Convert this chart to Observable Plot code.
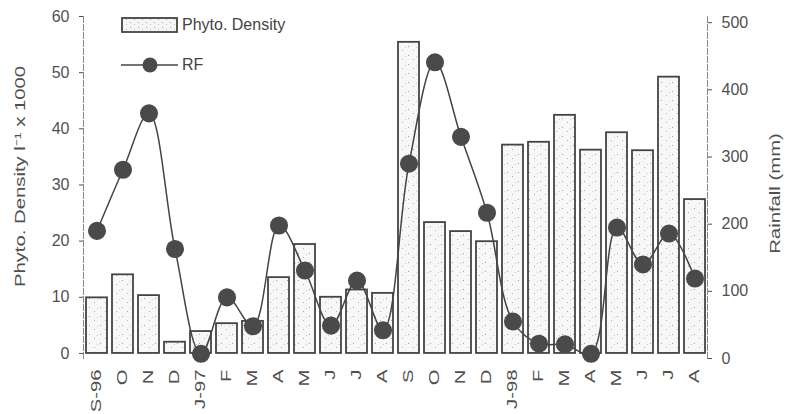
<!DOCTYPE html>
<html>
<head>
<meta charset="utf-8">
<script src="https://cdn.jsdelivr.net/npm/d3@7"></script>
<script src="https://cdn.jsdelivr.net/npm/@observablehq/plot@0.6"></script>
<style>
  body { margin: 0; background: #fff; }
  #wrap { position: relative; width: 788px; height: 414px; font-family: "Liberation Sans", Arial, sans-serif; }
  #legend { position: absolute; left: 121px; top: 11px; color: #444; font-size: 16px; }
  #legend .row { display: flex; align-items: center; height: 28px; margin-bottom: 12px; }
  #legend svg { margin-right: 4px; }
</style>
</head>
<body>
<div id="wrap">
  <div id="chart"></div>
  <div id="legend">
    <div class="row">
      <svg width="57" height="18"><rect x="1" y="2" width="55" height="14" fill="url(#stippleL)" stroke="#444" stroke-width="1.8"/>
        <defs><pattern id="stippleL" width="8" height="5" patternUnits="userSpaceOnUse"><rect width="8" height="5" fill="#f6f6f6"/><rect x="1" y="1" width="1" height="1" fill="#a8a8a8"/><rect x="5" y="3" width="1" height="1" fill="#b8b8b8"/></pattern></defs></svg>
      <span>Phyto. Density</span>
    </div>
    <div class="row">
      <svg width="57" height="18"><line x1="0" y1="9" x2="57" y2="9" stroke="#444" stroke-width="1.5"/><circle cx="29" cy="9" r="7.5" fill="#4a4a4a"/></svg>
      <span>RF</span>
    </div>
  </div>
</div>
<script>
const months = ["S-96","O","N","D","J-97","F","M","A","M","J","J","A","S","O","N","D","J-98","F","M","A","M","J","J","A"];
const phytoDensity = [9.9, 14, 10.3, 2, 3.9, 5.3, 5.7, 13.5, 19.4, 10, 11.3, 10.7, 55.4, 23.3, 21.7, 19.9, 37.1, 37.6, 42.4, 36.2, 39.3, 36.1, 49.2, 27.4];
const rainfall = [190, 281, 365, 163, 7, 91, 48, 198, 131, 49, 116, 42, 290, 441, 330, 217, 55, 22, 21, 7, 195, 140, 186, 119];
const densityTicks = [0, 10, 20, 30, 40, 50, 60];
const rainfallTicks = [0, 100, 200, 300, 400, 500];
const leftLabel = "Phyto. Density l⁻¹ x 1000";
const rightLabel = "Rainfall (mm)";

// rainfall (right axis) expressed in left-axis units
const rfToY = r => -0.9 + r * 0.1196;
const yToRf = v => Math.round((v + 0.9) / 0.1196);

const idx = months.map((_, i) => i);
const barData = idx.map(i => ({i, v: phytoDensity[i]}));
const rfData = idx.map(i => ({i, v: rfToY(rainfall[i])}));

const gray = "#505050";
const chart = Plot.plot({
  width: 788,
  height: 414,
  marginLeft: 83,
  marginRight: 81,
  marginTop: 16,
  marginBottom: 56,
  style: {fontFamily: "Liberation Sans, Arial, sans-serif", color: gray, background: "#fff"},
  x: {type: "band", domain: idx, paddingInner: 0.2, paddingOuter: 0.1, axis: null},
  y: {domain: [-0.9, 60], axis: null},
  marks: [
    Plot.frame({anchor: "left", stroke: "#888", strokeDasharray: "6,2"}),
    Plot.frame({anchor: "right", stroke: "#888", strokeDasharray: "6,2"}),
    Plot.barY(barData, {x: "i", y1: 0, y2: "v", fill: "url(#stipple)", stroke: "#444", strokeWidth: 1.8}),
    Plot.line(rfData, {x: "i", y: "v", curve: "catmull-rom", stroke: "#444", strokeWidth: 1.5}),
    Plot.dot(rfData, {x: "i", y: "v", r: 8.3, fill: "#4a4a4a", stroke: "#4a4a4a"}),
    Plot.axisY({anchor: "left", ticks: densityTicks, tickSize: 4, tickPadding: 10, fontSize: 16, label: null}),
    Plot.axisY({anchor: "right", ticks: rainfallTicks.map(rfToY), tickFormat: d => String(yToRf(d)), tickSize: 4, tickPadding: 10, fontSize: 16, label: null}),
    Plot.axisX({ticks: idx, tickFormat: i => months[i], tickRotate: -90, tickSize: 0, tickPadding: 11, fontSize: 14, label: null}),
    Plot.text([leftLabel], {text: d => d, frameAnchor: "left", textAnchor: "middle", dx: -63, dy: -11, rotate: -90, fontSize: 14, fill: gray}),
    Plot.text([rightLabel], {text: d => d, frameAnchor: "right", textAnchor: "middle", dx: 68, dy: 6, rotate: -90, fontSize: 14, fill: gray})
  ]
});

// stipple texture for the bars
const ns = "http://www.w3.org/2000/svg";
const defs = document.createElementNS(ns, "defs");
defs.innerHTML = '<pattern id="stipple" width="11" height="9" patternUnits="userSpaceOnUse">' +
  '<rect width="11" height="9" fill="#f7f7f7"/>' +
  '<rect x="1" y="1" width="1" height="1" fill="#a0a0a0"/>' +
  '<rect x="6" y="5" width="1" height="1" fill="#b0b0b0"/>' +
  '<rect x="9" y="2" width="1" height="1" fill="#cccccc"/></pattern>';
chart.insertBefore(defs, chart.firstChild);

// rotated texts in the reference are stretched along their baseline
chart.querySelectorAll("text").forEach(t => {
  const tr = t.getAttribute("transform");
  if (tr && tr.includes("rotate")) t.setAttribute("transform", tr + " scale(1.45,1)");
});
document.getElementById("chart").appendChild(chart);
</script>
</body>
</html>
